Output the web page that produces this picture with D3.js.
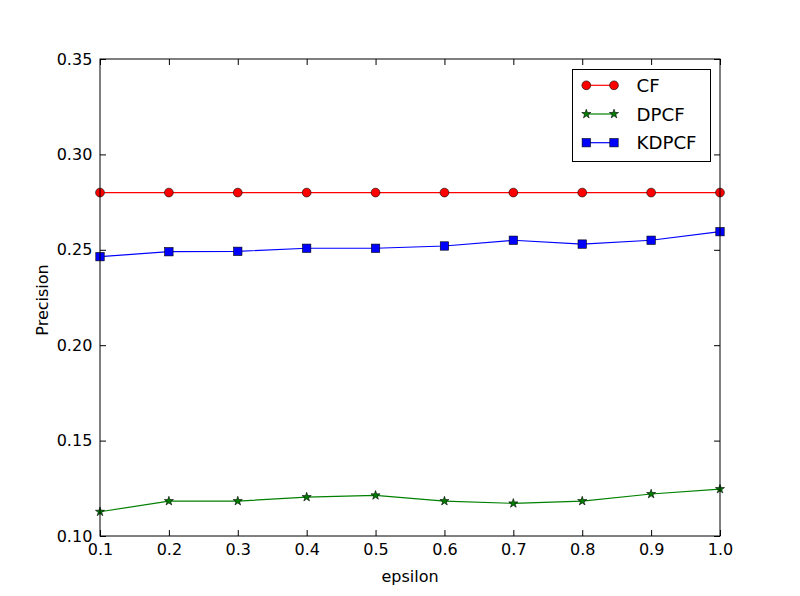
<!DOCTYPE html>
<html>
<head>
<meta charset="utf-8">
<script src="https://cdn.jsdelivr.net/npm/d3@7"></script>
<style>
  body { margin: 0; background: #fff; }
  text { font-family: "DejaVu Sans", sans-serif; }
</style>
</head>
<body>
<div id="chart"></div>
<script>
// values
const epsilon = [0.1, 0.2, 0.3, 0.4, 0.5, 0.6, 0.7, 0.8, 0.9, 1.0];
const cf = [0.28, 0.28, 0.28, 0.28, 0.28, 0.28, 0.28, 0.28, 0.28, 0.28];
const dpcf = [0.1127, 0.1183, 0.1183, 0.1204, 0.1213, 0.1183, 0.1171, 0.1183, 0.1220, 0.1246];
const kdpcf = [0.2464, 0.2490, 0.2492, 0.2508, 0.2508, 0.2520, 0.2550, 0.2530, 0.2550, 0.2595];
const xTicks = [0.1, 0.2, 0.3, 0.4, 0.5, 0.6, 0.7, 0.8, 0.9, 1.0];
const yTicks = [0.10, 0.15, 0.20, 0.25, 0.30, 0.35];

const width = 800, height = 596;
const margin = {left: 100, right: 80, top: 59, bottom: 60};

let svg = d3.select('#chart').append('svg')
    .attr('width', width)
    .attr('height', height);

const x = d3.scaleLinear().domain([0.1, 1.0]).range([margin.left, width - margin.right]);
const y = d3.scaleLinear().domain([0.10, 0.35]).range([height - margin.bottom, margin.top]);

const series = [
    {name: 'CF', values: cf, color: '#ff0000', shape: 'circle'},
    {name: 'DPCF', values: dpcf, color: '#008000', shape: 'star'},
    {name: 'KDPCF', values: kdpcf, color: '#0000ff', shape: 'square'}
];

function marker(g, shape, color, cx, cy) {
    if (shape === 'circle') {
        g.append('circle').attr('cx', cx).attr('cy', cy).attr('r', 4.4)
            .attr('fill', color).attr('stroke', '#000').attr('stroke-width', 0.6);
    } else if (shape === 'square') {
        g.append('rect').attr('x', cx - 4.2).attr('y', cy - 4.2).attr('width', 8.4).attr('height', 8.4)
            .attr('fill', color).attr('stroke', '#000').attr('stroke-width', 0.6);
    } else {
        g.append('path').attr('d', d3.symbol(d3.symbolStar, 26)())
            .attr('transform', `translate(${cx},${cy})`)
            .attr('fill', color).attr('stroke', '#000').attr('stroke-width', 0.6);
    }
}

let plot = svg.append('g');
let line = d3.line().x((d, i) => x(epsilon[i])).y(d => y(d));

series.forEach(function(s) {
    plot.append('path')
        .datum(s.values)
        .attr('d', line)
        .attr('fill', 'none')
        .attr('stroke', s.color)
        .attr('stroke-width', 1.2);
    s.values.forEach(function(v, i) {
        marker(plot, s.shape, s.color, x(epsilon[i]), y(v));
    });
});

// axes, ticks pointing inward on all four sides
const tickLen = 6;
let xb = svg.append('g').attr('transform', `translate(0,${height - margin.bottom})`)
    .call(d3.axisBottom(x).tickValues(xTicks).tickSize(-tickLen).tickPadding(7.6).tickFormat(d3.format('.1f')));
let xt = svg.append('g').attr('transform', `translate(0,${margin.top})`)
    .call(d3.axisTop(x).tickValues(xTicks).tickSize(-tickLen).tickFormat(''));
let yl = svg.append('g').attr('transform', `translate(${margin.left},0)`)
    .call(d3.axisLeft(y).tickValues(yTicks).tickSize(-tickLen).tickPadding(7.7).tickFormat(d3.format('.2f')));
let yr = svg.append('g').attr('transform', `translate(${width - margin.right},0)`)
    .call(d3.axisRight(y).tickValues(yTicks).tickSize(-tickLen).tickFormat(''));

[xb, xt, yl, yr].forEach(function(a) {
    a.select('.domain').remove();
    a.selectAll('line').attr('stroke', '#000');
    a.selectAll('text').attr('font-size', 16).attr('fill', '#000')
        .style('font-family', '"DejaVu Sans", sans-serif');
});

// frame
svg.append('rect')
    .attr('x', margin.left).attr('y', margin.top)
    .attr('width', width - margin.left - margin.right)
    .attr('height', height - margin.top - margin.bottom)
    .attr('fill', 'none').attr('stroke', '#000').attr('stroke-width', 1);

// axis labels
svg.append('text').attr('x', (margin.left + width - margin.right) / 2).attr('y', 581.5)
    .attr('text-anchor', 'middle').attr('font-size', 16).text('epsilon');
svg.append('text').attr('transform', 'translate(47.7,300) rotate(-90)')
    .attr('text-anchor', 'middle').attr('font-size', 16).text('Precision');

// legend
let legend = svg.append('g').attr('transform', 'translate(572.5,69.5)');
legend.append('rect').attr('width', 138).attr('height', 92)
    .attr('fill', '#fff').attr('stroke', '#000').attr('stroke-width', 1);
series.forEach(function(s, i) {
    let ly = 15.8 + i * 28.7;
    legend.append('line').attr('x1', 13.8).attr('x2', 41.5).attr('y1', ly).attr('y2', ly)
        .attr('stroke', s.color).attr('stroke-width', 1.2);
    marker(legend, s.shape, s.color, 13.8, ly);
    marker(legend, s.shape, s.color, 41.5, ly);
    legend.append('text').attr('x', 64).attr('y', ly + 6.6).attr('font-size', 18.2).text(s.name);
});
</script>
</body>
</html>
